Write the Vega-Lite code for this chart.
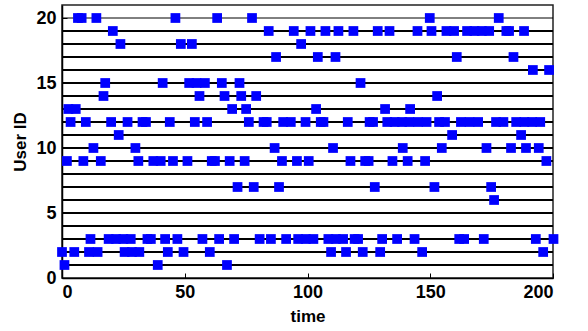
{
  "$schema": "https://vega.github.io/schema/vega-lite/v6.json",
  "width": 491,
  "height": 273,
  "padding": {"left": 11, "top": 5, "right": 5, "bottom": 0},
  "config": {
    "view": {"stroke": "#222222", "strokeWidth": 1.5},
    "font": "Liberation Sans",
    "axis": {
      "labelFont": "Liberation Sans", "labelFontWeight": "bold", "labelFontSize": 18, "labelColor": "black",
      "titleFont": "Liberation Sans", "titleFontWeight": "bold", "titleFontSize": 17, "titleColor": "black",
      "domainColor": "black", "domainWidth": 1.5, "tickColor": "black", "tickWidth": 1, "tickSize": -5, "grid": false
    }
  },
  "datasets": {
    "lines": [{"user": 1},{"user": 2},{"user": 3},{"user": 4},{"user": 5},{"user": 6},{"user": 7},{"user": 8},{"user": 9},{"user": 10},{"user": 11},{"user": 12},{"user": 13},{"user": 14},{"user": 15},{"user": 16},{"user": 17},{"user": 18},{"user": 19}],
    "topline": [{"user": 20}],
    "events": [
      {"t": 1, "user": 1},{"t": 39, "user": 1},{"t": 67.2, "user": 1},
      {"t": 0, "user": 2},{"t": 5, "user": 2},{"t": 11, "user": 2},{"t": 14.5, "user": 2},{"t": 25.5, "user": 2},{"t": 28.5, "user": 2},{"t": 31.5, "user": 2},{"t": 43.1, "user": 2},{"t": 49.5, "user": 2},{"t": 60.2, "user": 2},{"t": 109.6, "user": 2},{"t": 115.7, "user": 2},{"t": 122.5, "user": 2},{"t": 129.6, "user": 2},{"t": 146.7, "user": 2},{"t": 196, "user": 2},
      {"t": 11.6, "user": 3},{"t": 19, "user": 3},{"t": 22, "user": 3},{"t": 25, "user": 3},{"t": 28, "user": 3},{"t": 34.8, "user": 3},{"t": 36.2, "user": 3},{"t": 42, "user": 3},{"t": 47, "user": 3},{"t": 57.2, "user": 3},{"t": 64, "user": 3},{"t": 70.1, "user": 3},{"t": 80.5, "user": 3},{"t": 85.1, "user": 3},{"t": 91.3, "user": 3},{"t": 96.2, "user": 3},{"t": 99.3, "user": 3},{"t": 102.4, "user": 3},{"t": 108.5, "user": 3},{"t": 111.5, "user": 3},{"t": 114.5, "user": 3},{"t": 119.2, "user": 3},{"t": 120.6, "user": 3},{"t": 130.4, "user": 3},{"t": 136.5, "user": 3},{"t": 143.6, "user": 3},{"t": 161.8, "user": 3},{"t": 163.8, "user": 3},{"t": 171.8, "user": 3},{"t": 193, "user": 3},{"t": 200.2, "user": 3},
      {"t": 176, "user": 6},
      {"t": 71.5, "user": 7},{"t": 78.1, "user": 7},{"t": 88.4, "user": 7},{"t": 127.4, "user": 7},{"t": 151.7, "user": 7},{"t": 174.8, "user": 7},
      {"t": 2, "user": 9},{"t": 8.7, "user": 9},{"t": 15.8, "user": 9},{"t": 31.1, "user": 9},{"t": 37.2, "user": 9},{"t": 40.2, "user": 9},{"t": 45.2, "user": 9},{"t": 51.1, "user": 9},{"t": 61, "user": 9},{"t": 62.3, "user": 9},{"t": 68.3, "user": 9},{"t": 74.4, "user": 9},{"t": 89.6, "user": 9},{"t": 95.7, "user": 9},{"t": 100.5, "user": 9},{"t": 117.5, "user": 9},{"t": 123.5, "user": 9},{"t": 124.9, "user": 9},{"t": 134.6, "user": 9},{"t": 140.8, "user": 9},{"t": 147.9, "user": 9},{"t": 197.3, "user": 9},
      {"t": 12.8, "user": 10},{"t": 29.9, "user": 10},{"t": 86.6, "user": 10},{"t": 110.4, "user": 10},{"t": 138.8, "user": 10},{"t": 154.7, "user": 10},{"t": 172.9, "user": 10},{"t": 182.9, "user": 10},{"t": 189, "user": 10},{"t": 194.2, "user": 10},
      {"t": 23.1, "user": 11},{"t": 158.9, "user": 11},{"t": 187, "user": 11},
      {"t": 3.5, "user": 12},{"t": 9.7, "user": 12},{"t": 20, "user": 12},{"t": 26.7, "user": 12},{"t": 32.8, "user": 12},{"t": 34.2, "user": 12},{"t": 43.9, "user": 12},{"t": 54.1, "user": 12},{"t": 59.1, "user": 12},{"t": 76.1, "user": 12},{"t": 82.1, "user": 12},{"t": 83.4, "user": 12},{"t": 90.1, "user": 12},{"t": 93.2, "user": 12},{"t": 99.2, "user": 12},{"t": 105.4, "user": 12},{"t": 106.5, "user": 12},{"t": 116.4, "user": 12},{"t": 125.3, "user": 12},{"t": 126.7, "user": 12},{"t": 132.5, "user": 12},{"t": 135.5, "user": 12},{"t": 138.5, "user": 12},{"t": 141.5, "user": 12},{"t": 145, "user": 12},{"t": 148.5, "user": 12},{"t": 153.6, "user": 12},{"t": 156, "user": 12},{"t": 162.5, "user": 12},{"t": 166, "user": 12},{"t": 169.5, "user": 12},{"t": 176.8, "user": 12},{"t": 179.8, "user": 12},{"t": 185, "user": 12},{"t": 188.3, "user": 12},{"t": 191.5, "user": 12},{"t": 194.8, "user": 12},
      {"t": 2.6, "user": 13},{"t": 5.6, "user": 13},{"t": 69.3, "user": 13},{"t": 75, "user": 13},{"t": 103.5, "user": 13},{"t": 131.6, "user": 13},{"t": 141.8, "user": 13},
      {"t": 16.9, "user": 14},{"t": 56, "user": 14},{"t": 66.2, "user": 14},{"t": 73, "user": 14},{"t": 79.1, "user": 14},{"t": 152.8, "user": 14},
      {"t": 17.6, "user": 15},{"t": 41, "user": 15},{"t": 51.8, "user": 15},{"t": 54.8, "user": 15},{"t": 58.2, "user": 15},{"t": 65.1, "user": 15},{"t": 72.3, "user": 15},{"t": 121.6, "user": 15},
      {"t": 191.8, "user": 16},{"t": 198.4, "user": 16},
      {"t": 87.2, "user": 17},{"t": 104.2, "user": 17},{"t": 111.4, "user": 17},{"t": 160.8, "user": 17},{"t": 183.9, "user": 17},
      {"t": 23.8, "user": 18},{"t": 48.4, "user": 18},{"t": 52.9, "user": 18},{"t": 97.4, "user": 18},
      {"t": 20.7, "user": 19},{"t": 84.2, "user": 19},{"t": 94.4, "user": 19},{"t": 101.2, "user": 19},{"t": 107.3, "user": 19},{"t": 112.6, "user": 19},{"t": 118.7, "user": 19},{"t": 128.6, "user": 19},{"t": 133.4, "user": 19},{"t": 144.8, "user": 19},{"t": 150.5, "user": 19},{"t": 156.6, "user": 19},{"t": 159.7, "user": 19},{"t": 165, "user": 19},{"t": 168, "user": 19},{"t": 171, "user": 19},{"t": 174, "user": 19},{"t": 181, "user": 19},{"t": 182.1, "user": 19},{"t": 188.2, "user": 19},
      {"t": 6.5, "user": 20},{"t": 8, "user": 20},{"t": 14, "user": 20},{"t": 46.2, "user": 20},{"t": 63.2, "user": 20},{"t": 77.4, "user": 20},{"t": 149.8, "user": 20},{"t": 177.9, "user": 20}
    ]
  },
  "encoding": {
    "y": {
      "field": "user", "type": "quantitative",
      "scale": {"domain": [0, 21], "nice": false, "zero": false},
      "axis": {"title": "User ID", "values": [0, 5, 10, 15, 20], "labelPadding": 11, "titlePadding": 6}
    }
  },
  "layer": [
    {
      "data": {"name": "lines"},
      "mark": {"type": "rule", "color": "black", "strokeWidth": 2}
    },
    {
      "data": {"name": "topline"},
      "mark": {"type": "rule", "color": "black", "strokeWidth": 1}
    },
    {
      "data": {"name": "events"},
      "mark": {"type": "square", "filled": true, "size": 95, "color": "#0000ff", "opacity": 1},
      "encoding": {
        "x": {
          "field": "t", "type": "quantitative",
          "scale": {"domain": [0, 200], "nice": false, "zero": false},
          "axis": {"title": "time", "values": [0, 50, 100, 150, 200], "labelPadding": 10, "titlePadding": 7}
        }
      }
    }
  ]
}
